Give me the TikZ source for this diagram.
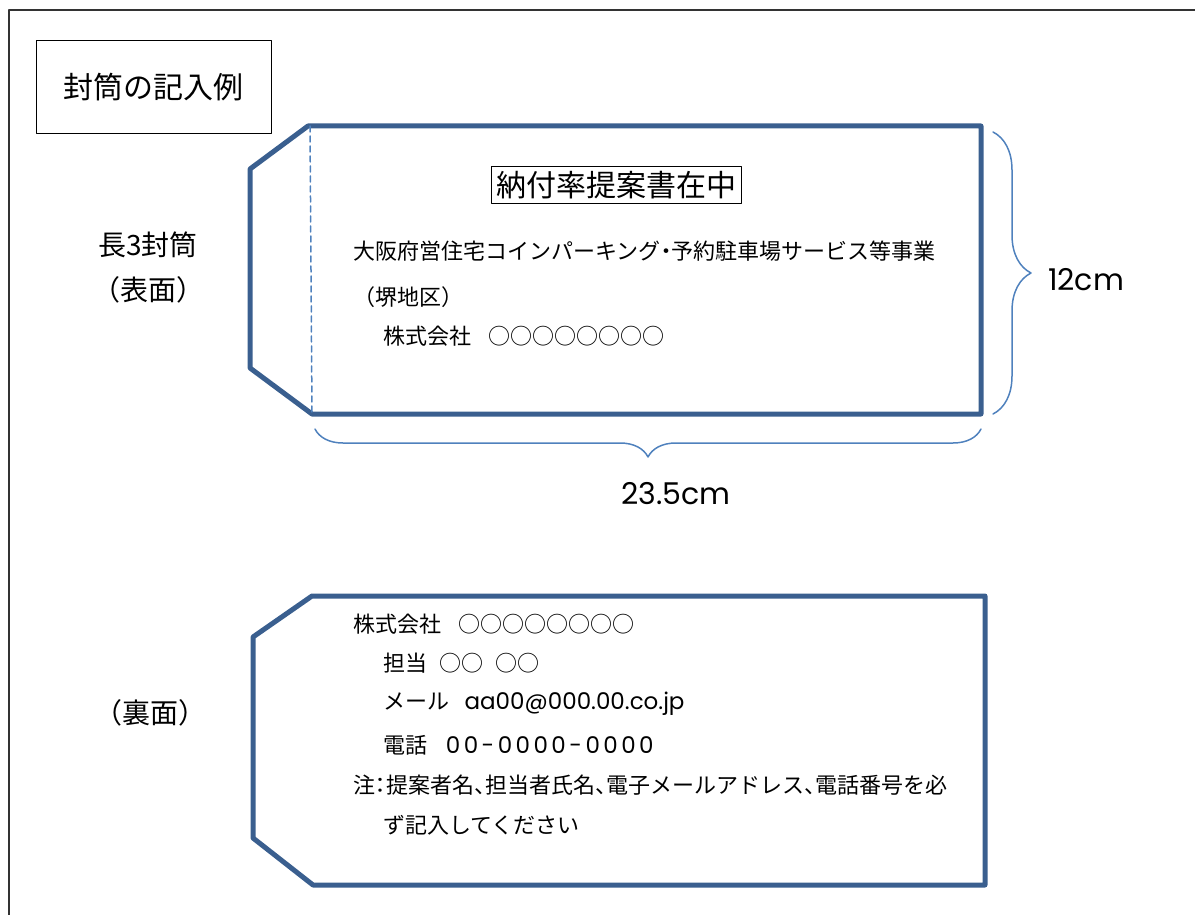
\documentclass[tikz,border=0pt]{standalone}
\usepackage{fontspec}
\setmainfont{Noto Sans CJK JP}
\newfontfamily\latinfont{Poppins}
\usetikzlibrary{decorations.pathreplacing}
\definecolor{envblue}{HTML}{3A5F8F}
\definecolor{braceblue}{HTML}{4F81BD}
\newcommand{\fsize}[1]{\fontsize{#1}{#1}\selectfont}
\begin{document}
\begin{tikzpicture}[x=1pt, y=-1pt, line join=round, line cap=round,
	envline/.style={draw=envblue, line width=5pt},
	bodytxt/.style={anchor=west, inner sep=0pt, font=\fsize{22}},
	halftxt/.style={bodytxt, font=\fsize{22}\addfontfeature{RawFeature=+halt}},
	sidetxt/.style={inner sep=0pt, font=\fsize{28}},
	dimtxt/.style={inner sep=0pt, font=\latinfont\fsize{30}},
	bracepath/.style={draw=braceblue, line width=1.5pt, decorate, decoration={brace, amplitude=#1}}]
	\useasboundingbox (0,0) rectangle (1195,915);
	\draw[line width=2pt, color=black!80] (1195,10)--(9,10)--(9,915);
	\node[draw, line width=1pt, minimum width=235pt, minimum height=93pt, font=\fsize{30}] (title) at (153.5,87.5) {封筒の記入例};
	
	% 表面
	\coordinate (fTL) at (308,126); \coordinate (fTR) at (981,126);
	\coordinate (fBR) at (981,414); \coordinate (fBL) at (312,414);
	\draw[envline] (fTL)--(fTR)--(fBR)--(fBL)--(250,368)--(250,169)--cycle;
	\draw[braceblue, line width=1.5pt, dash pattern=on 6pt off 4pt] (fTL)++(2,0) coordinate (dTop)--(fBL) coordinate (dBot);
	\node[draw, line width=1pt, inner sep=5pt, font=\fsize{30}] (mark) at (616,185) {納付率提案書在中};
	\node[halftxt] (addr1) at (353,251) {大阪府営住宅コインパーキング・予約駐車場サービス等事業};
	\node[bodytxt] (addr2) at (353,297) {（堺地区）};
	\node[bodytxt] (addr3) at (383,336) {株式会社\hspace{0.8em}○○○○○○○○};
	\node[sidetxt] (front1) at (148,245) {長3封筒};
	\node[sidetxt] (front2) at (148,290) {（表面）};
	
	% 寸法
	\coordinate (bL) at (315,429); \coordinate (bR) at (981,429);
	\draw[bracepath=28pt, decoration={mirror}] (bL)--(bR);
	\node[dimtxt] (width) at (676,494) {23.5cm};
	\coordinate (rT) at (993,132); \coordinate (rB) at (993,414);
	\draw[bracepath=38pt] (rT)--(rB);
	\node[dimtxt] (height) at (1086,280) {12cm};
	
	% 裏面
	\draw[envline] (312,596)--(985,596)--(985,885)--(313,885)--(253,838)--(253,637)--cycle;
	\node[bodytxt] (back1) at (353,624) {株式会社\hspace{0.8em}○○○○○○○○};
	\node[bodytxt] (back2) at (383,663) {担当\hspace{0.55em}○○\hspace{0.55em}○○};
	\node[bodytxt] (back3) at (383,704) {メール\hspace{0.7em}{\latinfont\fsize{23}aa00@000.00.co.jp}};
	\node[bodytxt] (back4) at (383,745) {電話\hspace{0.85em}{\latinfont\fsize{23}\addfontfeature{LetterSpace=15}00-0000-0000}};
	\node[halftxt] (back5) at (353,785) {注：提案者名、担当者氏名、電子メールアドレス、電話番号を必};
	\node[bodytxt] (back6) at (383,825) {ず記入してください};
	\node[sidetxt] (backlbl) at (150,713) {（裏面）};
\end{tikzpicture}
\end{document}
